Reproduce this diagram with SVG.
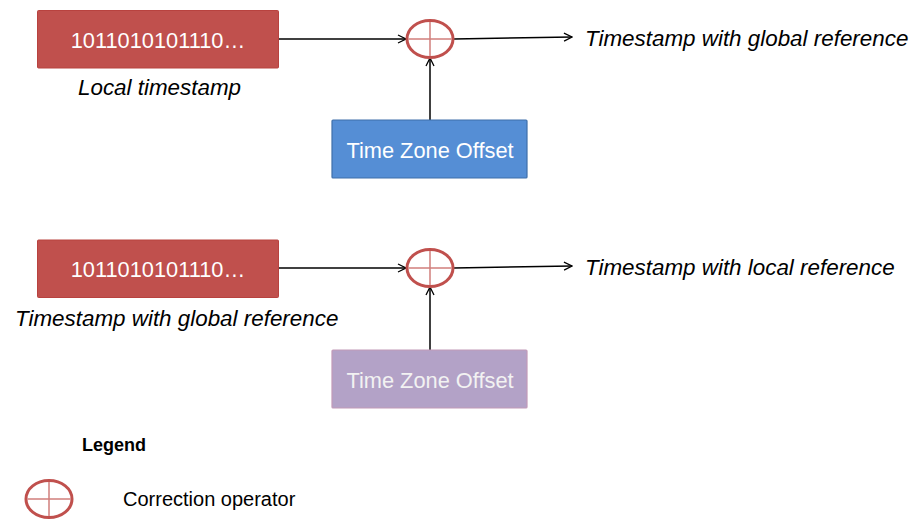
<svg xmlns="http://www.w3.org/2000/svg" width="912" height="519" viewBox="0 0 912 519">
<defs>
<marker id="arr" viewBox="0 0 10 10" refX="9" refY="5" markerWidth="10" markerHeight="10" markerUnits="userSpaceOnUse" orient="auto">
<path d="M1,1 L9,5 L1,9" fill="none" stroke="#000" stroke-width="1.3"/>
</marker>
<g id="op">
<ellipse cx="0" cy="0" rx="23" ry="18.5" fill="#fff" stroke="#C0504D" stroke-width="3"/>
<line x1="-21.5" y1="0" x2="21.5" y2="0" stroke="#D07E7B" stroke-width="1.5"/>
<line x1="0" y1="-17" x2="0" y2="17" stroke="#D07E7B" stroke-width="1.5"/>
</g>
</defs>
<style>
text{font-family:"Liberation Sans",Arial,sans-serif;}
.red{fill:#C0504D;stroke:#B8423F;stroke-width:1;}
.blue{fill:#558ED5;stroke:#3F6FAA;stroke-width:1.2;}
.purple{fill:#B3A2C7;stroke:#C29AB8;stroke-width:1.2;}
.bt{fill:#fff;font-size:21.8px;text-anchor:middle;}
.it{font-style:italic;font-size:22.4px;fill:#000;}
.conn{stroke:#000;stroke-width:1.5;fill:none;marker-end:url(#arr);}
</style>
<rect width="912" height="519" fill="#fff"/>

<g id="connectors">
<line class="conn" x1="279" y1="39" x2="406" y2="39"/>
<line class="conn" x1="454" y1="39" x2="572" y2="37"/>
<line class="conn" x1="430" y1="120" x2="430" y2="58"/>
<line class="conn" x1="279" y1="268" x2="406" y2="268"/>
<line class="conn" x1="454" y1="268" x2="572" y2="266"/>
<line class="conn" x1="430" y1="350" x2="430" y2="287"/>
</g>

<g id="local-ts">
<rect class="red" x="37.5" y="10.5" width="241" height="57.5" rx="1"/>
<text class="bt" x="158" y="47.5">1011010101110…</text>
<text class="it" x="78" y="95">Local timestamp</text>
</g>

<g id="op1"><use href="#op" x="430" y="39"/></g>

<g id="tzo1">
<rect class="blue" x="332" y="120" width="195" height="58" rx="1"/>
<text class="bt" x="430" y="157.5">Time Zone Offset</text>
</g>

<g id="out1"><text class="it" x="585" y="45.5">Timestamp with global reference</text></g>

<g id="global-ts">
<rect class="red" x="37.5" y="240" width="241" height="57.5" rx="1"/>
<text class="bt" x="158" y="277">1011010101110…</text>
<text class="it" x="15" y="325.5">Timestamp with global reference</text>
</g>

<g id="op2"><use href="#op" x="430" y="268"/></g>

<g id="tzo2">
<rect class="purple" x="332" y="350" width="195" height="58" rx="1"/>
<text class="bt" x="430" y="387.5" style="fill:#F2F2F2">Time Zone Offset</text>
</g>

<g id="out2"><text class="it" x="585" y="274.5">Timestamp with local reference</text></g>

<g id="legend">
<text x="82" y="451" font-size="18" font-weight="bold" fill="#000">Legend</text>
<use href="#op" x="49" y="499"/>
<text x="123" y="506" font-size="20" fill="#000">Correction operator</text>
</g>
</svg>
